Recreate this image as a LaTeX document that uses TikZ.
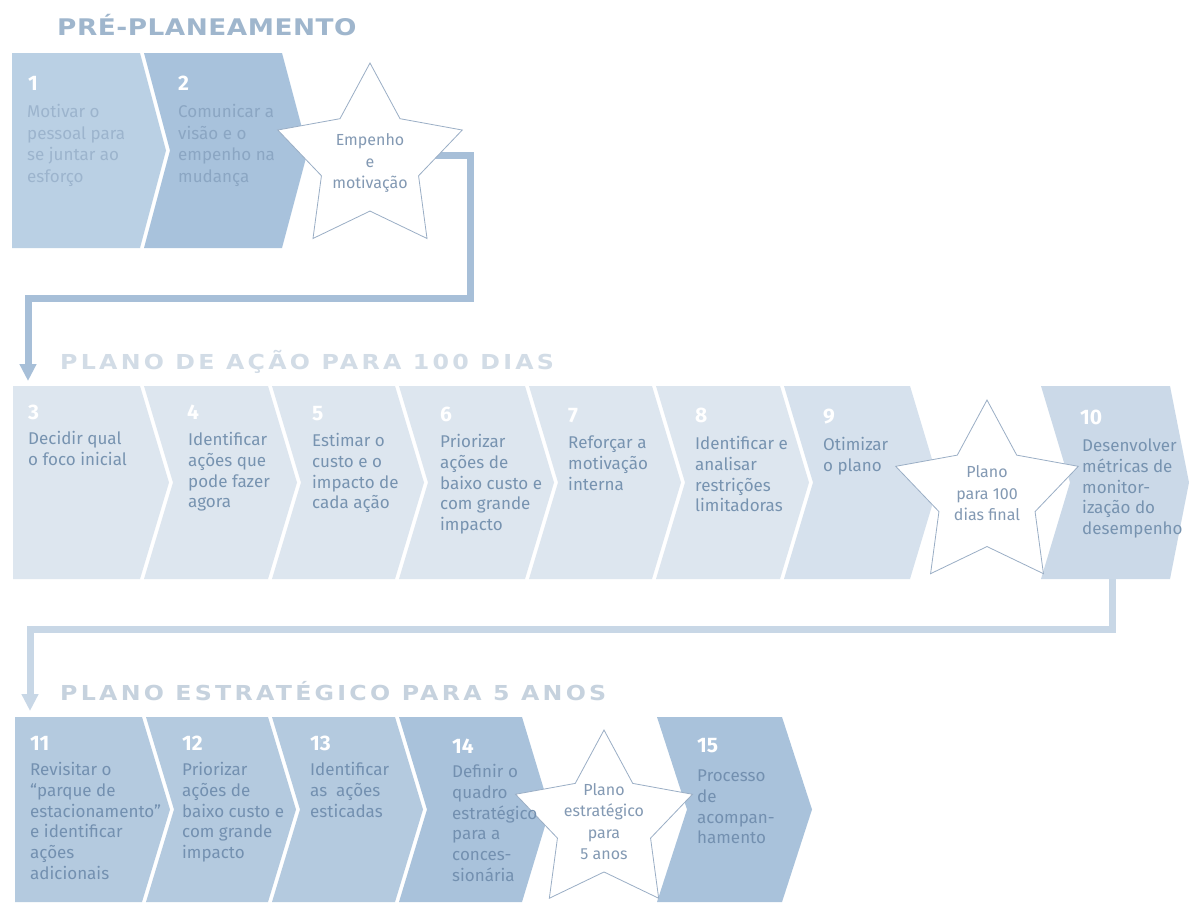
\documentclass[tikz,border=0pt]{standalone}
\usepackage{fontspec}
\setmainfont{Fira Sans}
\newfontfamily\ttlA[FakeStretch=1.15,LetterSpace=2.3]{DejaVu Sans}
\newfontfamily\ttlB[FakeStretch=1.15,LetterSpace=15.8]{DejaVu Sans}
\usetikzlibrary{shapes.geometric,arrows.meta}
\definecolor{topA}{HTML}{BAD0E4}
\definecolor{topB}{HTML}{A8C2DC}
\definecolor{midA}{HTML}{DDE6EF}
\definecolor{midB}{HTML}{D6E1ED}
\definecolor{midC}{HTML}{CBD9E8}
\definecolor{botA}{HTML}{B4CADF}
\definecolor{botB}{HTML}{A9C2DB}
\definecolor{ttlone}{HTML}{9FB6CD}
\definecolor{ttltwo}{HTML}{D2DCE6}
\definecolor{ttlthree}{HTML}{C6D2DE}
\definecolor{txtTopA}{HTML}{9CB4CD}
\definecolor{txtTopB}{HTML}{8BA6C3}
\definecolor{txtMid}{HTML}{7793B0}
\definecolor{txtBot}{HTML}{7390B0}
\definecolor{startext}{HTML}{8399B3}
\definecolor{starline}{HTML}{9AAEC5}
\definecolor{connA}{HTML}{A7BFD8}
\definecolor{connB}{HTML}{C8D7E6}
\newcommand\chevshape[7]{%
  \fill[#1] (#2,#4) -- (#3,#4) -- ({#3+#7},{(#4+#5)/2}) -- (#3,#5) -- (#2,#5) -- ({#2+#6},{(#4+#5)/2}) -- cycle;}
\begin{document}
\begin{tikzpicture}[x=1pt,y=-1pt,
  numtxt/.style={anchor=base west,inner sep=0pt,text=white,font=\fontsize{21}{24}\selectfont\bfseries},
  bodytxt/.style={anchor=north west,inner sep=0pt,align=left,font=\fontsize{17}{20.7}\selectfont},
  toptxt/.style={anchor=north west,inner sep=0pt,align=left,font=\fontsize{17}{21.7}\selectfont},
  starshape/.style={star,star points=5,star point ratio=1.9,inner sep=0pt,fill=white,draw=starline,line width=0.8pt},
  startxt/.style={align=center,inner sep=0pt,text=startext,font=\fontsize{16}{21.5}\selectfont},
  conn1/.style={draw=connA,line width=7pt,-{Triangle[length=17pt,width=16pt]}},
  conn2/.style={draw=connB,line width=7pt,-{Triangle[length=17pt,width=16pt]}},
  ttlfirst/.style={anchor=base west,inner sep=0pt,text=ttlone,font=\ttlA\fontsize{22.9}{26}\selectfont\bfseries},
  ttlsecond/.style={anchor=base west,inner sep=0pt,text=ttltwo,font=\ttlB\fontsize{20.6}{24}\selectfont\bfseries},
  ttlthird/.style={anchor=base west,inner sep=0pt,text=ttlthree,font=\ttlB\fontsize{20.6}{24}\selectfont\bfseries}]
\useasboundingbox (0,0) rectangle (1189,906);
\fill[white] (0,0) rectangle (1189,906);

% titles
\node[ttlfirst] (title1) at (57,35) {PRÉ-PLANEAMENTO};
\node[ttlsecond] (title2) at (60,369) {PLANO DE AÇÃO PARA 100 DIAS};
\node[ttlthird] (title3) at (60,700) {PLANO ESTRATÉGICO PARA 5 ANOS};

% top row boxes
\chevshape{topA}{12}{140}{53}{248}{0}{26}
\chevshape{topB}{144}{282}{53}{248}{26}{26}

% middle row boxes
\chevshape{midA}{13}{140}{386}{579}{0}{29}
\chevshape{midA}{144}{268}{386}{579}{29}{29}
\chevshape{midA}{272}{395}{386}{579}{29}{29}
\chevshape{midA}{399}{525}{386}{579}{29}{29}
\chevshape{midA}{529}{652}{386}{579}{29}{29}
\chevshape{midA}{656}{780}{386}{579}{29}{29}
\chevshape{midB}{784}{910}{386}{579}{29}{29}
\chevshape{midC}{1041}{1170}{386}{579}{29}{19}

% bottom row boxes
\chevshape{botA}{15}{142}{717}{902}{0}{28}
\chevshape{botA}{146}{268}{717}{902}{28}{28}
\chevshape{botA}{272}{395}{717}{902}{28}{28}
\chevshape{botB}{399}{522}{717}{902}{28}{28}
\chevshape{botB}{657}{782}{717}{902}{30}{30}

% connectors
\coordinate (j1) at (372,155);
\coordinate (k1) at (470,298);
\coordinate (a3) at (28,381);
\draw[conn1] (j1) -| (k1) -| (a3);
\coordinate (j2) at (1112,579);
\coordinate (k2) at (30,629);
\coordinate (a11) at (30,711);
\draw[conn2] (j2) |- (k2) -- (a11);

% stars
\node[starshape,minimum size=194pt] (s1) at (370,160) {};
\node[starshape,minimum size=192pt] (s2) at (987,496) {};
\node[starshape,minimum size=186pt] (s3) at (604,823) {};
\node[startxt] (st1) at (370,163) {\strut Empenho\\e\\motivação\strut};
\node[startxt] (st2) at (987,495) {\strut Plano\\para 100\\dias final\strut};
\node[startxt] (st3) at (604,823) {\strut Plano\\estratégico\\para\\5 anos\strut};

% top row text
\node[numtxt] (n1) at (28,90) {1};
\node[numtxt] (n2) at (178,90) {2};
\node[toptxt,text=txtTopA] (t1) at (27,102) {\strut Motivar o\\pessoal para\\se juntar ao\\esforço};
\node[toptxt,text=txtTopB] (t2) at (178,102) {\strut Comunicar a\\visão e o\\empenho na\\mudança};

% middle row text
\node[numtxt] (n3) at (28,419) {3};
\node[numtxt] (n4) at (187,419) {4};
\node[numtxt] (n5) at (312,420) {5};
\node[numtxt] (n6) at (440,421) {6};
\node[numtxt] (n7) at (568,422) {7};
\node[numtxt] (n8) at (695,422) {8};
\node[numtxt] (n9) at (823,423) {9};
\node[numtxt] (n10) at (1080,424) {10};
\node[bodytxt,text=txtMid] (t3) at (28,430) {\strut Decidir qual\\o foco inicial};
\node[bodytxt,text=txtMid] (t4) at (188,431) {\strut Identificar\\ações que\\pode fazer\\agora};
\node[bodytxt,text=txtMid] (t5) at (312,432) {\strut Estimar o\\custo e o\\impacto de\\cada ação};
\node[bodytxt,text=txtMid] (t6) at (440,433) {\strut Priorizar\\ações de\\baixo custo e\\com grande\\impacto};
\node[bodytxt,text=txtMid] (t7) at (568,434) {\strut Reforçar a\\motivação\\interna};
\node[bodytxt,text=txtMid] (t8) at (695,435) {\strut Identificar e\\analisar\\restrições\\limitadoras};
\node[bodytxt,text=txtMid] (t9) at (823,436) {\strut Otimizar\\o plano};
\node[bodytxt,text=txtMid] (t10) at (1082,437) {\strut Desenvolver\\métricas de\\monitor-\\ização do\\desempenho};

% bottom row text
\node[numtxt] (n11) at (30,750) {11};
\node[numtxt] (n12) at (182,750) {12};
\node[numtxt] (n13) at (310,750) {13};
\node[numtxt] (n14) at (452,753) {14};
\node[numtxt] (n15) at (697,752) {15};
\node[bodytxt,text=txtBot] (t11) at (30,761) {\strut Revisitar o\\“parque de\\estacionamento”\\e identificar\\ações\\adicionais};
\node[bodytxt,text=txtBot] (t12) at (182,761) {\strut Priorizar\\ações de\\baixo custo e\\com grande\\impacto};
\node[bodytxt,text=txtBot] (t13) at (310,761) {\strut Identificar\\as\ \ ações\\esticadas};
\node[bodytxt,text=txtBot] (t14) at (452,763) {\strut Definir o\\quadro\\estratégico\\para a\\conces-\\sionária};
\node[bodytxt,text=txtBot] (t15) at (697,767) {\strut Processo\\de\\acompan-\\hamento};
\end{tikzpicture}
\end{document}
